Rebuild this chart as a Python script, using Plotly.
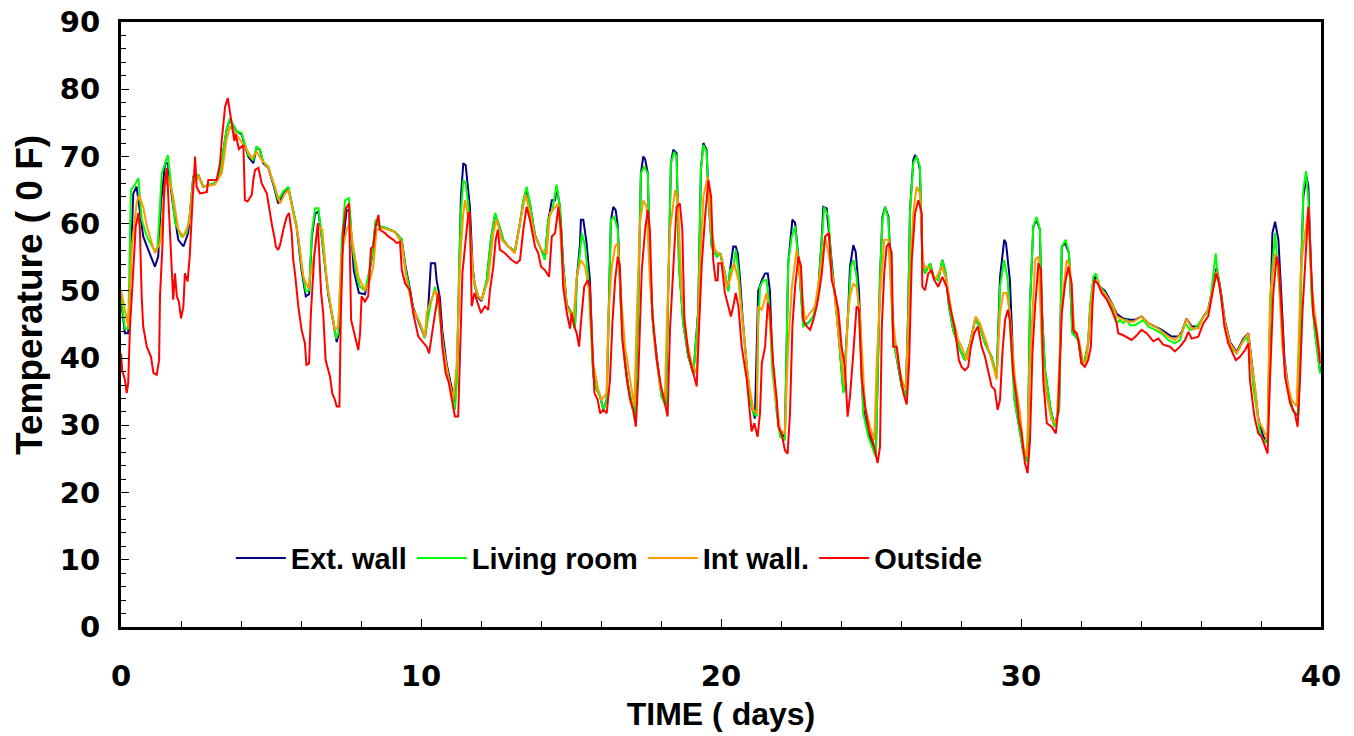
import plotly.graph_objects as go

# ---------------- data ----------------
ext_days = [0, 0.13, 0.24, 0.41, 0.52, 0.74, 0.91, 1.13, 1.24, 1.33, 1.47, 1.56, 1.74, 1.91, 2.08, 2.24, 2.3, 2.41, 2.58, 2.74, 3.13, 3.3, 3.52, 3.63, 3.86,
            4.02, 4.24, 4.41, 4.52, 4.63, 4.74, 4.91, 5.08, 5.24, 5.41, 5.58, 5.69, 5.86, 6.02, 6.16, 6.27, 6.36, 6.47, 6.58, 6.69, 6.91, 7.08, 7.19, 7.28, 7.36, 7.47, 7.52, 7.62, 7.76, 7.93,
            8.13, 8.24, 8.38, 8.49, 8.63, 8.8, 9.13, 9.36, 9.47, 9.6, 9.74, 9.91, 10.13, 10.22, 10.33, 10.47, 10.52, 10.63, 10.71, 10.86, 11.02, 11.13, 11.2, 11.27, 11.33, 11.41, 11.49, 11.63, 11.72, 11.8,
            11.91, 12.02, 12.19, 12.33, 12.47, 12.6, 12.74, 12.91, 13.13, 13.3, 13.41, 13.52, 13.63, 13.8, 13.97, 14.13, 14.24, 14.36, 14.47, 14.52, 14.63, 14.74, 14.86, 15.02, 15.13, 15.19, 15.3, 15.33, 15.41, 15.52, 15.63, 15.71, 15.74,
            15.86, 15.97, 16.08, 16.19, 16.27, 16.33, 16.41, 16.49, 16.56, 16.67, 16.8, 16.91, 17.04, 17.13, 17.24, 17.33, 17.41, 17.47, 17.56, 17.63, 17.74, 17.91, 18.02, 18.16, 18.24, 18.33, 18.41, 18.52, 18.6, 18.74, 18.91, 19.08, 19.24, 19.33, 19.41, 19.52, 19.6, 19.69, 19.86,
            19.97, 20.13, 20.24, 20.3, 20.41, 20.49, 20.56, 20.63, 20.72, 20.86, 20.97, 21.13, 21.24, 21.36, 21.47, 21.56, 21.63, 21.71, 21.86, 21.97, 22.13, 22.24, 22.38, 22.47, 22.6, 22.74, 22.91, 23.08, 23.22, 23.36, 23.41, 23.52, 23.6, 23.69, 23.82,
            23.91, 24.08, 24.24, 24.3, 24.41, 24.49, 24.6, 24.74, 24.91, 25.08, 25.16, 25.22, 25.3, 25.38, 25.47, 25.58, 25.67, 25.74, 25.91, 26.02, 26.16, 26.24, 26.3, 26.41, 26.47, 26.56, 26.63, 26.71, 26.8, 26.97, 27.08, 27.24, 27.38, 27.49, 27.6, 27.74,
            27.97, 28.13, 28.3, 28.47, 28.63, 28.8, 29.02, 29.19, 29.3, 29.44, 29.5, 29.58, 29.63, 29.7, 29.78, 29.93, 30.08, 30.22, 30.3, 30.41, 30.52, 30.63, 30.69, 30.8, 30.97, 31.11, 31.27, 31.36, 31.47, 31.6, 31.71, 31.82,
            31.91, 32.02, 32.13, 32.24, 32.3, 32.41, 32.47, 32.63, 32.8, 33.02, 33.19, 33.41, 33.63, 33.8, 34.02, 34.24, 34.47, 34.69, 35.02, 35.24, 35.36, 35.52, 35.69, 35.91,
            36.08, 36.24, 36.41, 36.52, 36.63, 36.8, 36.97, 37.19, 37.41, 37.58, 37.69, 37.8, 37.91, 38.08, 38.22, 38.3, 38.38, 38.47, 38.58, 38.67, 38.78, 38.91, 39.04, 39.13, 39.24, 39.33, 39.41, 39.52, 39.58, 39.69, 39.8, 39.97]
ext_temps = [48.7, 43.7, 43.7, 64.5, 65.5, 58.1, 56.1, 53.6, 55.1, 63, 69, 69, 62.5, 57.6, 56.6, 58.6, 61.6, 67, 67.2, 65.5, 66, 67.5, 74, 75.5, 73.7,
             73.3, 70, 69, 71.3, 71, 69, 68.3, 65.8, 63, 64.5, 65.3, 63, 59.3, 53, 49.2, 49.5, 58, 61.5, 61.8, 58, 49.4, 45.2, 42.4, 44, 55, 60, 62, 62, 53, 49.7,
             49.5, 51.8, 55.4, 60.3, 59.6, 59.4, 58.8, 57.6, 54, 51, 47.5, 45.5, 43, 46, 54.1, 54.1, 51.6, 49, 44, 39, 35.3, 33.3, 38, 54, 64, 69, 68.7, 62.5, 53.6, 50.6,
             49, 48.5, 51.5, 57.6, 61.4, 59.8, 57.6, 56.6, 55.9, 60.1, 63.3, 65, 63, 58.3, 56.6, 54.8, 60.4, 63.5, 63.5, 65.5, 62.5, 54, 47.9, 46.7, 44.5, 51.6, 57, 60.6, 60.6, 57.1, 51.6, 41.7, 37.6,
             35.3, 34.3, 32.3, 33.8, 49.5, 60.5, 62.5, 62, 59.6, 47, 39.5, 35.8, 32.8, 31.3, 48, 67.5, 70, 69.6, 67.5, 54, 44.5, 37.7, 34.3, 33, 52, 69, 71, 70.5, 54, 45.2, 40.2, 37.7, 47, 68, 72, 71, 62.5, 56.6, 55.1,
             55.6, 52.6, 50, 53.1, 56.6, 56.6, 55.6, 52, 46, 38.7, 33.8, 31, 50, 51.6, 52.6, 52.6, 50, 40, 32.3, 28.8, 28.3, 54.1, 60.6, 60.1, 54, 45, 45.2, 46.2, 48.7, 58, 62.5, 62.3, 58.6, 54, 49,
             44, 35, 47, 53.6, 56.8, 55.8, 50, 32.5, 28.8, 26.8, 25.8, 37, 52, 61, 62.5, 61, 53, 43, 38.7, 35.8, 34.3, 47, 62, 69.5, 70.2, 69.5, 68, 55.1, 52.6, 54.1, 52.1, 51.6, 54.6, 52.6, 47.7, 44.2,
             41.2, 39.7, 42.2, 45.7, 44.7, 42.2, 40.2, 37.3, 52, 57.6, 57.1, 53.8, 51.6, 44, 34, 30, 26, 24.6, 48, 59.6, 60.5, 59.1, 47.7, 38.2, 32.8, 30, 32.3, 56.6, 57.1, 55.6, 44, 43.2,
             42.7, 39.2, 39.7, 42.2, 47, 51.6, 52.1, 50.6, 50, 48.2, 46.6, 45.9, 45.7, 45.7, 46.2, 45.2, 44.7, 44.2, 43.2, 43.2, 43.9, 45.9, 44.7, 44.7,
             46.2, 47.2, 51, 53.4, 50.8, 45.5, 42.4, 40.9, 42.9, 43.7, 39.5, 35.5, 31, 28.3, 27.5, 45, 58.6, 60.3, 57.6, 50, 40, 35.5, 32.5, 31.8, 31.5, 52, 64, 67, 65.5, 50, 44, 38]

living_days = [0, 0.13, 0.24, 0.33, 0.47, 0.58, 0.69, 0.86, 1.13, 1.22, 1.36, 1.56, 1.69, 1.8, 2.02, 2.19, 2.3, 2.41, 2.58, 2.74, 3.13, 3.3, 3.52, 3.63, 3.86,
               4.02, 4.24, 4.41, 4.52, 4.63, 4.74, 4.91, 5.08, 5.24, 5.41, 5.58, 5.69, 5.86, 6.02, 6.16, 6.27, 6.36, 6.47, 6.58, 6.69, 6.91, 7.08, 7.17, 7.24, 7.36, 7.47, 7.6, 7.71, 7.86,
               7.97, 8.13, 8.24, 8.38, 8.49, 8.63, 8.8, 9.13, 9.36, 9.47, 9.6, 9.74, 9.91, 10.13, 10.22, 10.33, 10.47, 10.58, 10.71, 10.86, 11.02, 11.13, 11.2, 11.27, 11.33, 11.41, 11.49, 11.58, 11.69, 11.8,
               11.91, 12.02, 12.19, 12.33, 12.47, 12.6, 12.74, 12.91, 13.13, 13.3, 13.41, 13.52, 13.63, 13.8, 13.97, 14.13, 14.24, 14.38, 14.52, 14.63, 14.74, 14.86, 15.02, 15.13, 15.19, 15.3, 15.36, 15.47, 15.58, 15.69, 15.74,
               15.86, 15.97, 16.08, 16.19, 16.27, 16.33, 16.44, 16.56, 16.67, 16.8, 16.91, 17.04, 17.13, 17.24, 17.33, 17.44, 17.56, 17.63, 17.74, 17.91, 18.02, 18.16, 18.24, 18.33, 18.44, 18.52, 18.6, 18.74, 18.91, 19.08, 19.24, 19.33, 19.41, 19.52, 19.6, 19.69, 19.86,
               19.97, 20.13, 20.24, 20.3, 20.41, 20.49, 20.58, 20.69, 20.86, 20.97, 21.08, 21.19, 21.24, 21.3, 21.41, 21.52, 21.6, 21.71, 21.86, 21.97, 22.13, 22.24, 22.36, 22.47, 22.6, 22.74, 22.91, 23.08, 23.22, 23.36, 23.44, 23.58, 23.69, 23.82,
               23.91, 24.08, 24.24, 24.33, 24.41, 24.52, 24.6, 24.74, 24.91, 25.08, 25.16, 25.22, 25.3, 25.38, 25.47, 25.58, 25.67, 25.74, 25.91, 26.02, 26.16, 26.24, 26.3, 26.41, 26.52, 26.63, 26.71, 26.8, 26.97, 27.08, 27.24, 27.38, 27.49, 27.6, 27.74,
               27.97, 28.13, 28.3, 28.47, 28.63, 28.8, 29.02, 29.19, 29.3, 29.44, 29.56, 29.63, 29.78, 29.93, 30.08, 30.22, 30.3, 30.41, 30.52, 30.63, 30.69, 30.8, 30.97, 31.11, 31.27, 31.36, 31.49, 31.6, 31.71, 31.82,
               31.91, 32.02, 32.13, 32.24, 32.3, 32.41, 32.49, 32.63, 32.8, 33.02, 33.13, 33.19, 33.3, 33.41, 33.52, 33.63, 33.8, 34.08, 34.24, 34.47, 34.69, 34.91, 35.13, 35.3, 35.47, 35.63,
               35.8, 36.02, 36.19, 36.3, 36.41, 36.49, 36.53, 36.63, 36.74, 36.91, 37.08, 37.19, 37.36, 37.52, 37.63, 37.74, 37.86, 37.97, 38.13, 38.22, 38.27, 38.38, 38.47, 38.56, 38.67, 38.78, 38.91, 39.04, 39.13, 39.24, 39.33, 39.41, 39.5, 39.58, 39.69, 39.8, 39.97]
living_temps = [49.2, 44.4, 44.4, 65, 65.8, 66.8, 60.6, 58.1, 55.9, 56.6, 67.5, 70.2, 65, 60.1, 58.1, 58.6, 61.6, 67, 67.2, 65.5, 66, 67.5, 74, 75.7, 73.7,
                73.5, 70.2, 69.5, 71.5, 71, 69.2, 68.5, 66, 63.5, 64.8, 65.5, 63, 59.6, 53.6, 49.9, 50.1, 58.6, 62.3, 62.3, 58.1, 49.7, 45.7, 42.9, 43.7, 57.6, 63.5, 63.8, 56.6, 52.1,
                50.6, 50.1, 52.1, 55.6, 60.6, 59.6, 59.4, 58.8, 57.6, 53.6, 50.6, 47.2, 45.7, 43, 45.7, 48.2, 50.6, 47.7, 42.9, 38.3, 34.8, 32.3, 36.8, 53.6, 61.6, 66.5, 66, 62.5, 54.1, 50.6,
                49.2, 48.7, 51.6, 57.6, 61.6, 59.6, 57.6, 56.6, 55.9, 60.1, 63.5, 65.5, 63, 58.1, 56.6, 54.6, 60.6, 62, 65.8, 62.5, 53.6, 47.7, 46.7, 44.2, 51.6, 55.6, 58.6, 56.6, 51.6, 41.7, 37.3,
                35.3, 34.3, 32.3, 33.8, 49.2, 60.6, 61, 59.1, 46.7, 39.2, 35.8, 32.8, 30.8, 47.7, 67.5, 68.5, 67.5, 53.6, 44.2, 37.7, 34.3, 32.8, 51.6, 69, 70.7, 70, 53.6, 45.2, 40.2, 37.7, 46.7, 68, 71.7, 70.7, 62.5, 56.6, 55.1,
                55.6, 52.6, 49.9, 53.1, 53.6, 56.1, 53.1, 46.7, 38.7, 33.8, 31.8, 31.3, 44.7, 50.6, 51.6, 51.6, 48.2, 38.2, 31.8, 28.3, 27.8, 54.1, 58.1, 59.6, 53.6, 44.7, 45.2, 46.2, 48.7, 57.6, 62.5, 61, 53.6, 48.7,
                43.7, 34.8, 46.7, 53.6, 54.6, 52.1, 46.7, 31.8, 28.3, 26.3, 25.3, 36.8, 51.6, 60.6, 62.5, 60.6, 51.6, 42.7, 38.7, 35.8, 34.3, 46.7, 61.6, 69, 70, 68.5, 55.1, 52.6, 54.1, 52.1, 51.6, 54.6, 52.6, 47.7, 44.2,
                41.2, 39.7, 42.2, 45.7, 44.7, 42.2, 40.2, 37.3, 50.6, 54.6, 51.6, 44.7, 33.8, 29.8, 25.8, 24.4, 48.2, 59.6, 61, 59.1, 47.7, 38.2, 32.8, 29.8, 32.3, 56.6, 57.6, 55.6, 43.7, 43.2,
                42.7, 39.2, 39.7, 42.2, 47.7, 52.1, 52.6, 50.6, 49.7, 47.7, 46.7, 45.2, 45.7, 45.2, 45.7, 44.9, 44.9, 45.7, 44.7, 44.2, 43.7, 42.7, 42.2, 42.7, 45.2, 44.2,
                44.4, 45.7, 46.7, 48.2, 52.6, 55.6, 53.6, 50.6, 46.7, 42.7, 41.2, 40.7, 42.2, 43.2, 41.7, 35.8, 31.8, 28.8, 27.3, 28.8, 41.7, 53.6, 58.6, 53.6, 46.7, 39.2, 35.3, 32.3, 31.8, 31.8, 51.6, 65, 67.8, 63.5, 48.7, 43.7, 37.7]

int_days = [0, 0.13, 0.24, 0.36, 0.52, 0.6, 0.74, 0.86, 1.13, 1.3, 1.47, 1.58, 1.74, 1.91, 2.08, 2.27, 2.41, 2.58, 2.74, 3.13, 3.36, 3.52, 3.63, 3.8,
            4.13, 4.36, 4.52, 4.69, 4.91, 5.13, 5.3, 5.47, 5.58, 5.74, 5.91, 6.08, 6.24, 6.41, 6.58, 6.71, 6.86, 7.02, 7.13, 7.24, 7.36, 7.52, 7.63, 7.74, 7.91,
            8.13, 8.3, 8.41, 8.52, 8.69, 9.13, 9.36, 9.52, 9.74, 9.97, 10.13, 10.19, 10.3, 10.47, 10.58, 10.74, 10.91, 11.08, 11.19, 11.3, 11.41, 11.47, 11.63, 11.74, 11.91,
            12.02, 12.24, 12.41, 12.52, 12.69, 12.91, 13.13, 13.36, 13.49, 13.63, 13.8, 14.02, 14.19, 14.3, 14.47, 14.58, 14.71, 14.86, 15.08, 15.19, 15.33, 15.47, 15.63, 15.74, 15.91,
            16.02, 16.19, 16.24, 16.36, 16.47, 16.56, 16.67, 16.8, 16.97, 17.11, 17.19, 17.3, 17.41, 17.52, 17.63, 17.8, 17.97, 18.13, 18.19, 18.3, 18.47, 18.56, 18.69, 18.86, 19.02, 19.19, 19.3, 19.41, 19.56, 19.67, 19.8,
            20.02, 20.19, 20.3, 20.44, 20.58, 20.74, 20.91, 21.08, 21.19, 21.24, 21.36, 21.52, 21.63, 21.8, 21.97, 22.13, 22.24, 22.36, 22.52, 22.67, 22.8, 22.97, 23.13, 23.3, 23.47, 23.58, 23.74, 23.91,
            23.97, 24.13, 24.22, 24.3, 24.41, 24.52, 24.63, 24.8, 24.97, 25.11, 25.19, 25.3, 25.44, 25.58, 25.71, 25.86, 26.02, 26.16, 26.3, 26.41, 26.52, 26.63, 26.74, 26.91, 27.13, 27.36, 27.52, 27.69, 27.91,
            28.02, 28.19, 28.36, 28.49, 28.63, 28.86, 29.08, 29.19, 29.3, 29.41, 29.52, 29.63, 29.8, 29.97, 30.08, 30.19, 30.3, 30.47, 30.58, 30.71, 30.86, 31.02, 31.19, 31.36, 31.52, 31.63, 31.78, 31.93,
            32.08, 32.19, 32.3, 32.41, 32.52, 32.69, 32.86, 33.08, 33.19, 33.36, 33.58, 33.74, 34.02, 34.24, 34.47, 34.69, 34.91, 35.13, 35.36, 35.52, 35.69, 35.91,
            36.08, 36.24, 36.41, 36.52, 36.63, 36.8, 36.97, 37.19, 37.41, 37.58, 37.69, 37.8, 37.91, 38.08, 38.22, 38.3, 38.47, 38.58, 38.71, 38.86, 39.02, 39.19, 39.33, 39.47, 39.58, 39.69, 39.82, 39.97]
int_temps = [50.1, 47.2, 44.7, 56.6, 63, 64.3, 62.5, 59.6, 55.6, 57.1, 65.5, 67, 64, 59.1, 58.1, 60.1, 66, 67, 65.5, 65.8, 67.5, 72.5, 74.5, 73.5,
             71.5, 69.7, 70.7, 69.5, 68.3, 65.5, 63, 64.5, 65, 61.6, 58.1, 52.1, 50.4, 54.6, 59.6, 59.1, 51.6, 46.7, 44.2, 44.7, 55.6, 59.1, 60.1, 56.6, 52.1,
             50.1, 51.6, 53.6, 59.1, 59.4, 58.8, 57.1, 51.6, 47.2, 45.2, 43.2, 46.7, 48.2, 50.1, 48.7, 41.7, 37.3, 33.8, 39.2, 54.1, 61.6, 63.5, 59.6, 52.1, 49.2,
             48.7, 51.6, 58.6, 60.6, 57.6, 56.6, 55.6, 61.6, 64.3, 61.6, 58.1, 56.1, 55.6, 61.6, 62.5, 63, 54.1, 47.7, 45.7, 52.1, 54.6, 53.6, 49.2, 39.2, 35.3,
             33.8, 34.8, 45.7, 53.6, 56.6, 57.1, 49.2, 41.7, 36.8, 32.8, 45.7, 60.1, 63.5, 62.5, 51.6, 41.7, 35.8, 33.8, 44.2, 59.1, 65, 63.5, 49.7, 42.7, 39.2, 37.7, 53.6, 64, 67, 59.1, 56.1,
             55.1, 50.6, 51.6, 54.1, 51.6, 44.7, 36.8, 32.3, 31.8, 47.7, 47.2, 49.7, 45.7, 34.8, 29.3, 28.8, 41.7, 50.6, 56.1, 50.6, 45.7, 46.7, 47.7, 52.6, 58.1, 55.6, 51.6, 43.7,
             41.7, 35.8, 45.7, 49.2, 51.1, 50.6, 46.7, 32.8, 29.8, 27.8, 39.2, 49.2, 57.6, 57.6, 46.7, 40.7, 36.8, 35.3, 51.6, 61.6, 65.5, 64.5, 53.6, 53.6, 51.6, 53.6, 51.6, 46.7, 42.7,
             41.7, 39.7, 43.7, 46.2, 45.2, 42.2, 38.7, 36.8, 46.7, 49.7, 49.7, 46.7, 36.8, 31.8, 26.8, 25.3, 39.2, 54.6, 55.1, 40.2, 34.3, 30.8, 30.3, 47.7, 54.6, 53.6, 44.2, 42.7,
             39.2, 39.7, 46.2, 51.1, 51.6, 50.1, 49.2, 47.7, 46.2, 45.9, 45.4, 45.4, 46.2, 45.2, 44.7, 44, 43.2, 42.7, 43.7, 45.9, 44.4, 44.4,
             46.2, 47.2, 50.6, 52.9, 50.6, 45.2, 42.2, 40.7, 42.7, 43.7, 39.2, 35.8, 30.8, 29.3, 27.8, 49.2, 55.6, 53.6, 41.7, 36.8, 33.8, 32.8, 53.6, 59.1, 62.5, 50.6, 46, 40.2]

out_days = [0, 0.04, 0.13, 0.19, 0.24, 0.3, 0.36, 0.44, 0.49, 0.58, 0.63, 0.69, 0.74, 0.86, 1.0, 1.08, 1.19, 1.27, 1.3, 1.38, 1.44, 1.53, 1.63, 1.71, 1.74, 1.8, 1.86, 1.93, 2.0, 2.08, 2.13, 2.22, 2.29, 2.38, 2.47, 2.52, 2.63, 2.86, 2.91, 3.19, 3.3, 3.36, 3.47, 3.56, 3.63, 3.71, 3.78, 3.82, 3.93,
            4.08, 4.13, 4.22, 4.36, 4.41, 4.47, 4.58, 4.69, 4.86, 4.94, 5.04, 5.11, 5.16, 5.24, 5.3, 5.41, 5.52, 5.6, 5.69, 5.74, 5.8, 5.91, 6.02, 6.13, 6.18, 6.27, 6.33, 6.44, 6.56, 6.67, 6.74, 6.82, 6.97, 7.04, 7.13, 7.19, 7.28, 7.33, 7.41, 7.5, 7.6, 7.67, 7.78, 7.86,
            7.91, 7.97, 8.02, 8.13, 8.24, 8.33, 8.41, 8.49, 8.58, 8.63, 8.8, 8.91, 9.08, 9.19, 9.3, 9.36, 9.47, 9.63, 9.74, 9.91, 10.08, 10.19, 10.27, 10.36, 10.47, 10.58, 10.63, 10.71, 10.82, 10.93, 11.04, 11.13, 11.24, 11.3, 11.38, 11.49, 11.58, 11.63, 11.69, 11.78, 11.89,
            12.0, 12.13, 12.24, 12.3, 12.41, 12.49, 12.56, 12.63, 12.8, 13.02, 13.19, 13.3, 13.41, 13.52, 13.63, 13.8, 13.91, 14.0, 14.13, 14.27, 14.36, 14.47, 14.58, 14.67, 14.74, 14.86, 14.97, 15.02, 15.11, 15.19, 15.27, 15.33, 15.44, 15.56, 15.63, 15.71, 15.78, 15.89,
            15.97, 16.08, 16.19, 16.3, 16.38, 16.47, 16.56, 16.63, 16.71, 16.86, 16.97, 17.08, 17.16, 17.24, 17.36, 17.47, 17.56, 17.63, 17.71, 17.86, 18.0, 18.13, 18.22, 18.3, 18.41, 18.52, 18.63, 18.71, 18.78, 18.91, 19.08, 19.19, 19.27, 19.36, 19.47, 19.58, 19.67, 19.74, 19.82, 19.89,
            19.91, 20.02, 20.13, 20.24, 20.33, 20.41, 20.49, 20.58, 20.69, 20.86, 20.97, 21.02, 21.11, 21.22, 21.3, 21.36, 21.47, 21.56, 21.63, 21.74, 21.86, 21.91, 22.02, 22.13, 22.22, 22.3, 22.38, 22.47, 22.58, 22.67, 22.74, 22.86, 22.97, 23.08, 23.19, 23.27, 23.36, 23.47, 23.6, 23.69, 23.8, 23.91,
            24.02, 24.13, 24.22, 24.3, 24.41, 24.52, 24.6, 24.69, 24.82, 24.93, 25.08, 25.16, 25.22, 25.3, 25.36, 25.44, 25.52, 25.6, 25.69, 25.74, 25.86, 25.97, 26.08, 26.19, 26.27, 26.36, 26.47, 26.58, 26.69, 26.71, 26.8, 26.91, 27.02, 27.11, 27.24, 27.38, 27.52, 27.63, 27.8, 27.93,
            28.02, 28.13, 28.24, 28.33, 28.44, 28.56, 28.69, 28.8, 28.91, 29.02, 29.13, 29.22, 29.3, 29.38, 29.47, 29.56, 29.63, 29.74, 29.86, 29.93, 30.02, 30.13, 30.22, 30.3, 30.38, 30.47, 30.58, 30.67, 30.74, 30.86, 31.02, 31.16, 31.24, 31.36, 31.47, 31.58, 31.69, 31.74, 31.86, 31.93,
            32.02, 32.13, 32.24, 32.33, 32.38, 32.44, 32.56, 32.69, 32.86, 33.02, 33.19, 33.24, 33.41, 33.69, 33.86, 34.02, 34.19, 34.41, 34.58, 34.74, 34.97, 35.13, 35.3, 35.47, 35.58, 35.69, 35.91,
            36.08, 36.24, 36.33, 36.44, 36.52, 36.6, 36.67, 36.78, 36.91, 37.02, 37.16, 37.3, 37.47, 37.58, 37.63, 37.78, 37.91, 38.02, 38.13, 38.22, 38.3, 38.41, 38.52, 38.6, 38.69, 38.8, 38.97, 39.13, 39.22, 39.3, 39.38, 39.49, 39.58, 39.67, 39.74, 39.86, 39.97]
out_temps = [40.7, 38.2, 36.8, 34.8, 36.3, 44.7, 49.2, 55.1, 59.6, 61.6, 59.1, 49.2, 44.7, 41.7, 40.2, 37.8, 37.5, 39.7, 49.2, 56.6, 65.5, 68.3, 58.6, 52.6, 48.7, 52.6, 49.2, 48.4, 45.9, 47.7, 52.6, 51.4, 55.1, 63, 70, 65.5, 64.5, 64.7, 66.5, 66.5, 69, 72.5, 77.4, 78.7, 76.4, 74.5, 72.3, 73.3, 71.1,
             71.7, 63.5, 63.3, 64.3, 66.5, 68, 68.3, 66, 64.5, 62, 59.6, 58.1, 56.6, 56.1, 56.8, 59.1, 61, 61.6, 58.6, 54.6, 52.6, 47.7, 44.2, 42.2, 39, 39.2, 46.7, 55.1, 60.1, 49.7, 46.7, 39.7, 37.2, 34.8, 33.8, 32.8, 32.8, 46.7, 59.1, 62.3, 63, 45.7, 43.7, 42.2,
             41.2, 43.7, 49.2, 48.4, 49.2, 56.3, 56.6, 59.6, 61.3, 59.1, 58.6, 58.1, 57.6, 57.1, 57.3, 53.1, 51.1, 50.1, 46.7, 43.2, 42.2, 41.7, 40.7, 43.7, 46.7, 49.7, 47.7, 41.7, 37.8, 36.3, 33.8, 31.3, 31.3, 40.2, 52.6, 57.6, 61.6, 61.6, 47.7, 49.7, 48.2,
             46.7, 47.7, 47.2, 50.1, 53.6, 57.6, 59.1, 56.1, 55.6, 54.6, 54.1, 54.6, 59.1, 62.5, 60.6, 56.6, 55.6, 53.6, 53.1, 52.1, 58.1, 58.6, 62.5, 59.1, 50.6, 46.7, 44.4, 46.7, 44.7, 43.7, 41.7, 45.2, 50.6, 51.6, 50.6, 41.7, 34.8, 33.8,
             31.8, 32.3, 31.8, 36.8, 45.2, 51.6, 55.1, 53.6, 42.7, 36.8, 33.8, 32.3, 29.8, 36.8, 53.1, 59.1, 62, 59.1, 46.7, 39.7, 35.8, 33.3, 31.3, 44.2, 54.1, 62.5, 63, 59.1, 45.7, 40.7, 37.7, 35.8, 44.7, 54.1, 61, 66.5, 64, 54.6, 51.6, 51.6,
             54.1, 54.1, 49.7, 47.7, 46.2, 47.7, 49.7, 47.7, 41.7, 36.8, 31.8, 29.1, 30.3, 28.3, 31.8, 39.2, 41.7, 48.2, 47.2, 39.2, 33.8, 29.8, 28.8, 26.3, 25.8, 31.8, 44.7, 50.6, 55.1, 53.6, 45.7, 44.7, 44.2, 45.7, 47.7, 49.7, 52.6, 58.1, 58.6, 51.6, 49.7, 47.2,
             41.7, 38.7, 31.3, 34.3, 40.7, 47.7, 47.2, 36.8, 32.3, 29.3, 27.3, 25.3, 24.4, 26.8, 44.7, 52.6, 56.6, 57.1, 55.6, 41.7, 41.7, 37.7, 34.8, 33.1, 39.2, 54.6, 61.6, 63.5, 61.6, 50.6, 50.1, 52.6, 53.1, 51.6, 50.6, 52.1, 50.6, 47.7, 44.2, 39.7,
             38.7, 38.2, 38.7, 41.7, 43.7, 44.7, 41.7, 40.2, 38.2, 35.8, 35.3, 32.3, 33.8, 40.7, 45.7, 47.2, 45.7, 37.7, 33.8, 30.8, 28.8, 24.4, 22.9, 27.8, 40.7, 47.7, 54.1, 53.1, 36.8, 30.3, 29.8, 28.8, 32.3, 46.7, 51.1, 53.6, 51.1, 44.2, 43.7, 42.2,
             39.2, 38.7, 39.7, 41.7, 47.7, 51.6, 51.1, 49.7, 48.7, 47.2, 45.2, 43.7, 43.4, 42.7, 43.4, 44.2, 43.7, 42.5, 42.9, 42, 41.7, 41, 41.7, 42.7, 43.9, 42.9, 43.2,
             45.2, 46.2, 48.7, 51.1, 52.6, 51.1, 49.2, 44.7, 42.2, 41.2, 39.7, 40.2, 41.2, 42.2, 36.8, 31.3, 28.8, 28.3, 26.8, 25.8, 36.8, 49.7, 55.1, 53.6, 46.7, 37.3, 33.3, 31.8, 29.8, 36.8, 46.7, 56.6, 62.5, 53.6, 46.7, 43.7, 39.2]

series_names = ["Ext. wall", "Living room", "Int wall.", "Outside"]
series_colors = ["#000080", "#00FF00", "#FF9900", "#FF0000"]

x_tick_values = [0, 10, 20, 30, 40]
y_tick_values = [0, 10, 20, 30, 40, 50, 60, 70, 80, 90]

# ---------------- figure ----------------
FONT = "Liberation Sans, Arial, sans-serif"
TICKFONT = "DejaVu Sans, Verdana, sans-serif"
fig = go.Figure()
for name, color, xs, ys in zip(series_names, series_colors,
                               [ext_days, living_days, int_days, out_days],
                               [ext_temps, living_temps, int_temps, out_temps]):
    fig.add_trace(go.Scatter(x=xs, y=ys, mode="lines", name=name,
                             line=dict(color=color, width=2)))

axis_common = dict(showline=True, linecolor="black", linewidth=3, mirror=True,
                   ticks="inside", tickcolor="black", tickwidth=1, ticklen=8,
                   showgrid=False, zeroline=False, automargin=False,
                   ticklabeloverflow="allow",
                   tickfont=dict(family=TICKFONT, size=29, color="black", weight="bold"))

fig.update_xaxes(range=[0, 40], tickvals=x_tick_values, ticklabelstandoff=21,
                 minor=dict(dtick=2, ticks="inside", ticklen=6, tickcolor="black", tickwidth=1),
                 title=dict(text="TIME ( days)", standoff=11,
                            font=dict(family=FONT, size=32, color="black", weight="bold")),
                 **axis_common)
fig.update_yaxes(range=[0, 90], tickvals=y_tick_values, ticklabelstandoff=12,
                 minor=dict(dtick=2, ticks="inside", ticklen=5, tickcolor="black", tickwidth=1),
                 **axis_common)

# y-axis title placed like the reference (slightly above the axis centre)
fig.add_annotation(text="Temperature ( 0 F)", textangle=-90,
                   xref="paper", yref="paper", x=-0.0758, y=0.549,
                   xanchor="center", yanchor="middle", showarrow=False,
                   font=dict(family=FONT, size=37, color="black", weight="bold"))

fig.update_layout(
    width=1354, height=736,
    margin=dict(l=121, r=33, t=22, b=109),
    paper_bgcolor="white", plot_bgcolor="white",
    showlegend=True,
    legend=dict(orientation="h", x=0.0915, y=0.114, xanchor="left", yanchor="middle",
                bgcolor="rgba(0,0,0,0)", borderwidth=0, tracegroupgap=0, itemwidth=50,
                font=dict(family=FONT, size=29, color="black", weight="bold")),
    hovermode=False,
)

# remove the default page margin so the figure sits at the window origin
fig.write_html("out.html", config={"displayModeBar": False},
               post_script="document.body.style.margin='0';document.body.style.overflow='hidden';")
